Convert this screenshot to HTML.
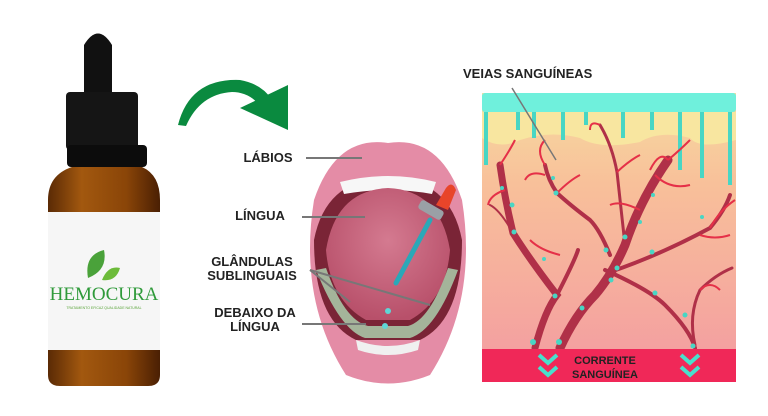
<!DOCTYPE html>
<html><head><meta charset="utf-8"><style>
body{margin:0;width:768px;height:416px;background:#fff;overflow:hidden}
svg{display:block}
</style></head><body>
<svg width="768" height="416" viewBox="0 0 768 416" xmlns="http://www.w3.org/2000/svg" font-family="Liberation Sans, sans-serif">
<defs>
<linearGradient id="amb" x1="0" x2="1"><stop offset="0" stop-color="#5a2a05"/><stop offset=".3" stop-color="#a2580f"/><stop offset=".7" stop-color="#8a4508"/><stop offset="1" stop-color="#4a1f03"/></linearGradient>
<linearGradient id="pan" x1="0" y1="0" x2="0" y2="1"><stop offset="0" stop-color="#f6dca0"/><stop offset=".35" stop-color="#f8c09a"/><stop offset="1" stop-color="#f4a0a0"/></linearGradient>
<radialGradient id="tg" cx=".5" cy=".4" r=".6"><stop offset="0" stop-color="#d47a90"/><stop offset="1" stop-color="#b8506a"/></radialGradient>
</defs>
<!-- bottle -->
<path d="M84 95 L84 45 Q98 22 112 45 L112 95Z" fill="#111"/>
<rect x="66" y="92" width="72" height="58" rx="4" fill="#151515"/>
<rect x="67" y="145" width="80" height="22" rx="4" fill="#0c0c0c"/>
<path d="M72 167 L142 167 Q160 175 160 200 L160 375 Q160 386 148 386 L60 386 Q48 386 48 375 L48 200 Q48 175 72 167Z" fill="url(#amb)"/>
<rect x="48" y="212" width="112" height="138" fill="#f6f6f6"/>
<path d="M88 278 Q84 255 104 250 Q108 270 88 278Z" fill="#4aa23a"/>
<path d="M102 280 Q108 265 120 268 Q116 282 102 280Z" fill="#6dbb3a"/>
<text x="104" y="300" font-family="Liberation Serif, serif" font-size="19" fill="#2f9a3a" text-anchor="middle">HEMOCURA</text>
<text x="104" y="309" font-size="3.5" fill="#5aa43a" text-anchor="middle">TRATAMENTO EFICAZ QUALIDADE NATURAL</text>
<!-- arrow -->
<path d="M178 125 Q190 78 240 80 Q262 84 272 100 L262 108 Q250 92 232 92 Q200 94 186 126Z" fill="#0a8a3f"/>
<path d="M240 108 L288 85 L288 130Z" fill="#0a8a3f"/>
<!-- mouth -->
<path d="M388 143 Q440 135 462 200 Q478 300 430 375 Q388 392 346 375 Q298 300 314 200 Q336 135 388 143Z" fill="#e48ca6"/>
<path d="M388 178 Q450 178 462 240 Q462 320 420 340 L356 340 Q314 320 314 240 Q326 178 388 178Z" fill="#7a2436"/>
<path d="M340 182 Q388 170 436 182 L432 194 Q388 186 344 194Z" fill="#f7f7f7"/>
<path d="M388 188 Q440 190 450 250 Q446 300 410 320 L366 320 Q330 300 326 250 Q336 190 388 188Z" fill="url(#tg)"/>
<path d="M316 270 Q340 330 365 338 L410 338 Q436 330 458 270 L448 268 Q430 320 408 326 L368 326 Q344 320 326 268Z" fill="#a4b49a"/>
<path d="M356 340 Q388 352 420 340 L418 350 Q388 360 358 350Z" fill="#f0f0f0"/>
<circle cx="388" cy="311" r="3" fill="#5fd6d6"/><circle cx="385" cy="326" r="3" fill="#5fd6d6"/>
<line x1="430" y1="220" x2="396" y2="283" stroke="#2aa8b8" stroke-width="5" stroke-linecap="round"/>
<rect x="418" y="205" width="26" height="10" rx="3" fill="#9aa0a6" transform="rotate(30 431 210)"/>
<path d="M436 205 L446 188 Q452 180 456 190 L448 210Z" fill="#e8452a"/>
<!-- labels -->
<g font-size="13" font-weight="bold" fill="#222" text-anchor="middle">
<text x="268" y="162">LÁBIOS</text>
<text x="260" y="220">LÍNGUA</text>
<text x="252" y="266">GLÂNDULAS</text>
<text x="252" y="280">SUBLINGUAIS</text>
<text x="255" y="317">DEBAIXO DA</text>
<text x="255" y="331">LÍNGUA</text>
</g>
<g stroke="#777" stroke-width="2">
<line x1="306" y1="158" x2="362" y2="158"/>
<line x1="302" y1="217" x2="365" y2="217"/>
<line x1="310" y1="270" x2="350" y2="302"/>
<line x1="310" y1="270" x2="430" y2="305"/>
<line x1="302" y1="324" x2="366" y2="324"/>
</g>
<!-- right panel -->
<rect x="482" y="93" width="254" height="260" fill="url(#pan)"/>
<path d="M482 112 L736 112 L736 140 Q700 150 690 138 Q660 130 640 142 Q600 150 580 138 Q550 130 520 140 Q500 150 482 138Z" fill="#f8e6a0"/>
<rect x="482" y="93" width="254" height="19" rx="3" fill="#6ff0dc"/>
<g stroke="#48d6c4" stroke-width="4">
<line x1="486" y1="112" x2="486" y2="165"/><line x1="518" y1="112" x2="518" y2="130"/>
<line x1="534" y1="112" x2="534" y2="138"/><line x1="563" y1="112" x2="563" y2="140"/>
<line x1="586" y1="112" x2="586" y2="125"/><line x1="623" y1="112" x2="623" y2="138"/>
<line x1="652" y1="112" x2="652" y2="130"/><line x1="680" y1="112" x2="680" y2="170"/>
<line x1="702" y1="112" x2="702" y2="178"/><line x1="730" y1="112" x2="730" y2="185"/>
</g>
<g stroke="#b03048" fill="none" stroke-linecap="round">
<path d="M535 348 Q545 310 557 295 Q530 260 513 233 Q505 200 500 165" stroke-width="7"/>
<path d="M560 348 Q575 315 595 295 Q612 275 625 245 Q640 200 668 160" stroke-width="9"/>
<path d="M557 295 Q575 260 578 250" stroke-width="4"/>
<path d="M610 272 Q660 255 710 228 Q725 210 730 195" stroke-width="4"/>
<path d="M605 270 Q650 290 665 305 Q690 330 695 348" stroke-width="4"/>
<path d="M610 255 Q600 230 590 220 Q570 205 557 193 Q548 180 545 165" stroke-width="4"/>
<path d="M625 245 Q620 200 617 172 Q612 145 600 125" stroke-width="3"/>
<path d="M695 345 Q688 315 700 290 Q715 275 732 268" stroke-width="3"/>
<path d="M513 233 Q500 210 490 205" stroke-width="2"/>
</g>
<g stroke="#e53048" fill="none" stroke-width="2">
<path d="M500 165 Q510 150 515 140 M505 190 Q490 195 488 205"/>
<path d="M545 165 Q535 150 545 140 M557 193 Q570 180 580 175 M545 175 Q530 170 525 180"/>
<path d="M668 160 Q680 150 690 140 M668 160 Q660 150 650 170 M655 175 Q670 190 690 185"/>
<path d="M617 172 Q630 160 640 155 M600 125 Q590 120 590 130"/>
<path d="M710 228 Q720 210 735 200 M700 235 Q715 240 730 235 M640 210 Q620 200 610 205"/>
<path d="M700 290 Q710 280 720 290 M560 255 Q540 250 530 240"/>
</g>
<g fill="#48d6c4">
<circle cx="533" cy="342" r="3"/><circle cx="559" cy="342" r="3"/><circle cx="555" cy="296" r="2.5"/>
<circle cx="582" cy="308" r="2.5"/><circle cx="611" cy="280" r="2.5"/><circle cx="617" cy="268" r="2.5"/>
<circle cx="625" cy="237" r="2.5"/><circle cx="606" cy="250" r="2.5"/><circle cx="652" cy="252" r="2.5"/>
<circle cx="655" cy="293" r="2.5"/><circle cx="693" cy="346" r="2.5"/><circle cx="685" cy="315" r="2.5"/>
<circle cx="514" cy="232" r="2.5"/><circle cx="512" cy="205" r="2.5"/><circle cx="556" cy="193" r="2.5"/>
<circle cx="553" cy="178" r="2"/><circle cx="502" cy="188" r="2"/><circle cx="653" cy="195" r="2"/>
<circle cx="702" cy="217" r="2"/><circle cx="640" cy="222" r="2"/><circle cx="544" cy="259" r="2"/>
</g>
<rect x="482" y="349" width="254" height="33" fill="#f02858"/>
<text x="605" y="364" font-size="11" font-weight="bold" fill="#222" text-anchor="middle">CORRENTE</text>
<text x="605" y="378" font-size="11" font-weight="bold" fill="#222" text-anchor="middle">SANGUÍNEA</text>
<g fill="none" stroke="#48e0cc" stroke-width="4">
<path d="M539 355 L548 363 L557 355 M539 367 L548 375 L557 367"/>
<path d="M681 355 L690 363 L699 355 M681 367 L690 375 L699 367"/>
</g>
<text x="463" y="78" font-size="13" font-weight="bold" fill="#222">VEIAS SANGUÍNEAS</text>
<line x1="512" y1="88" x2="556" y2="160" stroke="#777" stroke-width="1.5"/>
</svg>
</body></html>
